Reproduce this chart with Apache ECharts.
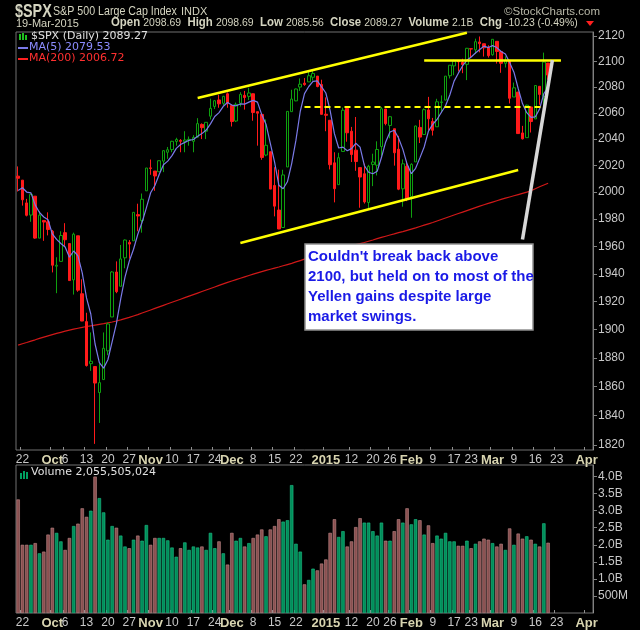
<!DOCTYPE html>
<html><head><meta charset="utf-8">
<script src="https://cdn.jsdelivr.net/npm/echarts@6/dist/echarts.min.js"></script>
<style>html,body{margin:0;padding:0;background:#000}#c{width:640px;height:630px}</style>
</head><body><div id="c"></div>
<script>
const dates = [
'2014-09-19','2014-09-22','2014-09-23','2014-09-24','2014-09-25','2014-09-26','2014-09-29','2014-09-30',
'2014-10-01','2014-10-02','2014-10-03','2014-10-06','2014-10-07','2014-10-08','2014-10-09','2014-10-10','2014-10-13','2014-10-14','2014-10-15','2014-10-16','2014-10-17','2014-10-20','2014-10-21','2014-10-22','2014-10-23','2014-10-24','2014-10-27','2014-10-28','2014-10-29','2014-10-30','2014-10-31',
'2014-11-03','2014-11-04','2014-11-05','2014-11-06','2014-11-07','2014-11-10','2014-11-11','2014-11-12','2014-11-13','2014-11-14','2014-11-17','2014-11-18','2014-11-19','2014-11-20','2014-11-21','2014-11-24','2014-11-25','2014-11-26','2014-11-28',
'2014-12-01','2014-12-02','2014-12-03','2014-12-04','2014-12-05','2014-12-08','2014-12-09','2014-12-10','2014-12-11','2014-12-12','2014-12-15','2014-12-16','2014-12-17','2014-12-18','2014-12-19','2014-12-22','2014-12-23','2014-12-24','2014-12-26','2014-12-29','2014-12-30','2014-12-31',
'2015-01-02','2015-01-05','2015-01-06','2015-01-07','2015-01-08','2015-01-09','2015-01-12','2015-01-13','2015-01-14','2015-01-15','2015-01-16','2015-01-20','2015-01-21','2015-01-22','2015-01-23','2015-01-26','2015-01-27','2015-01-28','2015-01-29','2015-01-30',
'2015-02-02','2015-02-03','2015-02-04','2015-02-05','2015-02-06','2015-02-09','2015-02-10','2015-02-11','2015-02-12','2015-02-13','2015-02-17','2015-02-18','2015-02-19','2015-02-20','2015-02-23','2015-02-24','2015-02-25','2015-02-26','2015-02-27',
'2015-03-02','2015-03-03','2015-03-04','2015-03-05','2015-03-06','2015-03-09','2015-03-10','2015-03-11','2015-03-12','2015-03-13','2015-03-16','2015-03-17','2015-03-18','2015-03-19'];
const futureDates = ['2015-03-20','2015-03-23','2015-03-24','2015-03-25','2015-03-26','2015-03-27','2015-03-30','2015-03-31','2015-04-01','2015-04-02'];
// [open, close, low, high]
const ohlc = [
[2012,2010.4,2000.5,2019.3],[2009,1994.3,1990,2009],[1992,1982.8,1982,1995],[1983,1998.3,1978,1999],[1997,1966,1965.5,1997],[1966,1982.9,1966,1986],[1979,1977.8,1964,1979],[1978,1972.3,1968,1985],
[1971,1946.2,1941,1972],[1945.5,1946.2,1926,1952],[1949,1967.9,1949,1971],[1970,1964.8,1960,1977],[1962,1935.1,1935,1962],[1935.6,1968.9,1925,1970],[1967.7,1928.2,1927,1967.7],[1925.6,1906.1,1906,1936],[1905.7,1874.7,1874,1912],[1876,1877.7,1871,1898],[1874,1862.5,1820.7,1874],[1855.9,1862.8,1835,1876],[1864.9,1886.8,1864.9,1898],[1885,1904,1882,1905],[1909,1941.3,1909,1942],[1941.3,1927.1,1926,1949],[1931,1950.8,1931,1961],[1951.6,1964.6,1944,1965],[1962.9,1961.6,1951,1964.6],[1964,1985,1964,1985],[1983.3,1982.3,1971,1991.4],[1979,1994.7,1970,1999],[2001,2018.1,2001,2018.2],
[2018.2,2017.8,2013,2024.5],[2015.8,2012.1,2001,2015.8],[2015.3,2023.6,2015.3,2023.8],[2023.3,2031.2,2015,2031.6],[2030,2031.9,2025,2034],[2032,2038.3,2030,2038.7],[2038.2,2039.7,2035,2041],[2039,2038.3,2030,2040],[2038,2039.3,2030,2046],[2039.3,2039.8,2035,2042],[2038.3,2041.3,2030,2043],[2041.5,2051.8,2041,2056],[2051.2,2048.7,2040,2052],[2046,2052.8,2040,2053],[2057.5,2063.5,2055,2071],[2065,2069.4,2063,2070],[2070,2067,2064,2074],[2067.4,2072.8,2066,2073.2],[2074.8,2067.6,2064,2075.8],
[2065.8,2053.4,2049.6,2065.8],[2053.8,2066.6,2053,2068],[2067.5,2074.3,2065,2076],[2073.6,2071.9,2062.6,2077],[2072.8,2075.4,2070,2079.5],[2074.8,2060.3,2054,2075],[2061,2059.8,2035,2061],[2058.9,2026.1,2024.3,2058.9],[2027.9,2035.3,2027,2055],[2030.4,2002.3,2002.3,2030.4],[2005,1989.6,1982,2018.7],[1986.7,1972.7,1972.6,2016.9],[1973.8,2012.9,1973.8,2016.8],[2018.9,2061.2,2018.9,2061.2],[2061,2070.7,2061,2077.9],[2069.3,2078.5,2069,2078.8],[2080,2082.2,2077,2086.7],[2083,2081.9,2081,2087],[2084,2088.8,2084,2092.7],[2087.6,2090.6,2085,2093.6],[2088.5,2080.4,2079.8,2088.5],[2082,2058.9,2058.9,2085.7],
[2059,2058.2,2046,2072],[2054.4,2020.6,2017,2054.4],[2022,2002.6,1992.4,2030],[2005.6,2025.9,2005.6,2029.6],[2030.6,2062.1,2030.6,2064.1],[2063.5,2044.8,2038,2064.4],[2046,2028.3,2022.6,2049.3],[2031.6,2023,2016,2056.9],[2018.4,2011.3,1988.4,2018.4],[2013.8,1992.7,1991.5,2021.4],[1992.3,2019.4,1988.1,2020.5],[2020.8,2022.6,2004.5,2028.9],[2020.2,2032.1,2012.5,2038.3],[2034.3,2063.2,2026.4,2064.6],[2063,2051.8,2050.5,2063],[2050.4,2057.1,2040.6,2057.6],[2047.9,2029.6,2019.9,2047.9],[2032.3,2002.2,2001.5,2042.5],[2002.5,2021.3,1989.2,2024.6],[2019.4,1995,1993.3,2023.3],
[1996.7,2020.9,1981,2021.7],[2022.7,2050,2022.7,2050.3],[2048.9,2041.5,2037,2054.7],[2043.5,2062.5,2043.5,2063.5],[2062.3,2055.5,2046.8,2072.4],[2053.5,2046.7,2042.7,2056.2],[2049.4,2068.6,2049.4,2070.9],[2068,2068.5,2060,2073.5],[2069.9,2088.5,2069.9,2088.5],[2088.8,2097,2086.7,2097],[2096.5,2100.3,2089.2,2101.3],[2100.5,2099.7,2092.2,2100.7],[2099.3,2097.5,2090.8,2102.1],[2097.7,2110.3,2085.4,2110.6],[2110,2109.7,2103,2110.1],[2109.1,2115.5,2105.9,2117.9],[2115.3,2113.9,2107.1,2119.6],[2113.9,2110.7,2103.8,2113.9],[2110.9,2104.5,2103,2112.7],
[2105.2,2117.4,2104.5,2117.5],[2115.8,2107.8,2098.3,2115.8],[2107.7,2098.5,2091.1,2107.7],[2098.5,2101,2095.2,2104],[2100.9,2071.3,2067.3,2100.9],[2072.3,2079.4,2072.3,2083.5],[2076.1,2044.2,2044.2,2076.1],[2044.7,2040.2,2039.7,2050.1],[2041.1,2066,2041.1,2066.4],[2064.6,2053.4,2045,2064.6],[2055.4,2081.2,2055.4,2081.4],[2080.6,2074.3,2066.3,2080.6],[2072.8,2099.5,2061,2106.9],[2098.7,2089.3,2085.6,2098.7]];
const priorCloses = [1984.13,1998.98,2001.57,2011.36];
const ma200 = [
1889.0,1890.0,1890.9,1891.9,1892.8,1893.8,1894.7,1895.6,1896.5,1897.3,
1898.1,1898.9,1899.6,1900.3,1901.0,1901.6,1902.2,1902.7,1903.2,1903.7,
1904.2,1904.8,1905.4,1906.1,1906.9,1907.8,1908.7,1909.7,1910.7,1911.8,
1912.9,1914.0,1915.1,1916.2,1917.3,1918.4,1919.5,1920.6,1921.7,1922.8,
1923.9,1925.0,1926.1,1927.2,1928.3,1929.4,1930.5,1931.6,1932.7,1933.8,
1934.8,1935.8,1936.8,1937.8,1938.8,1939.8,1940.7,1941.6,1942.5,1943.3,
1944.1,1944.9,1945.8,1946.7,1947.6,1948.6,1949.6,1950.6,1951.6,1952.6,
1953.6,1954.5,1955.4,1956.2,1957.0,1957.8,1958.7,1959.6,1960.4,1961.2,
1962.0,1962.8,1963.7,1964.6,1965.6,1966.5,1967.4,1968.3,1969.1,1970.0,
1970.8,1971.7,1972.6,1973.5,1974.5,1975.5,1976.5,1977.5,1978.6,1979.7,
1980.8,1981.9,1983.0,1984.1,1985.2,1986.3,1987.4,1988.5,1989.6,1990.6,
1991.6,1992.6,1993.6,1994.6,1995.5,1996.4,1997.3,1998.2,1999.1,2000.0,
2001.0,2002.6,2004.0,2005.4,2006.7];
// volume in billions
const volume = [
3.33,2.0,2.0,2.0,2.05,1.75,1.8,2.3,2.5,2.35,2.1,1.85,2.2,2.55,2.62,3.07,2.82,3.0,4.0,3.37,
2.95,2.15,2.55,2.5,2.27,1.95,1.9,2.15,2.27,2.12,2.58,2.0,2.2,2.2,2.2,2.13,1.92,1.65,1.9,2.07,
1.85,1.95,1.92,1.95,1.85,2.35,1.9,2.1,1.75,1.42,2.35,2.12,2.2,1.95,2.05,2.2,2.3,2.45,2.25,2.45,
2.55,2.75,2.68,2.72,3.75,2.03,1.8,0.84,0.97,1.3,1.25,1.45,1.57,2.35,2.75,2.23,2.4,1.95,2.1,2.52,
2.78,2.65,2.65,2.4,2.27,2.65,2.12,2.12,2.4,2.75,2.65,3.07,2.6,2.75,2.72,2.3,2.57,2.05,2.27,2.18,
2.35,2.1,2.1,1.97,1.97,2.12,1.9,2.03,2.1,2.18,2.15,2.05,1.95,2.03,1.85,2.48,2.0,2.33,2.18,2.25,
2.15,2.03,1.95,2.63,2.06];
// u = green (up) bar, d = brown (down) bar
const volDir = 'dddududdduuddudddudu'+'uuuduududuudduuuuudu'+'uuuduuudud'+'duududddud'+'dduuuuuduu'+'ddddduuddd'+'duuuuududd'+'uduududduu'+'uuuddududd'+'duddududdu'+'dudud';
const priceTicks = [1820,1840,1860,1880,1900,1920,1940,1960,1980,2000,2020,2040,2060,2080,2100,2120];
const volTicks = [0.5,1.0,1.5,2.0,2.5,3.0,3.5,4.0];
const volTickLabels = ['500M','1.0B','1.5B','2.0B','2.5B','3.0B','3.5B','4.0B'];
const xLabels = {'2014-09-22':'22','2014-10-01':'Oct','2014-10-06':'6','2014-10-13':'13','2014-10-20':'20','2014-10-27':'27','2014-11-03':'Nov','2014-11-10':'10','2014-11-17':'17','2014-11-24':'24','2014-12-01':'Dec','2014-12-08':'8','2014-12-15':'15','2014-12-22':'22','2015-01-02':'2015','2015-01-12':'12','2015-01-20':'20','2015-01-26':'26','2015-02-02':'Feb','2015-02-09':'9','2015-02-17':'17','2015-02-23':'23','2015-03-02':'Mar','2015-03-09':'9','2015-03-16':'16','2015-03-23':'23','2015-04-01':'Apr'};
const monthLabels = ['Oct','Nov','Dec','2015','Feb','Mar','Apr'];

const allDates = dates.concat(futureDates);
const L = Math.log;
const closes = ohlc.map(d=>d[1]);
const ext = priorCloses.concat(closes);
const ma5 = closes.map((c,i)=>{let s=0;for(let k=0;k<5;k++)s+=ext[i+4-k];return L(s/5);});
const candles = ohlc.map(d=>d.map(L));
const volData = volume.map((v,i)=>({value:v,itemStyle:volDir[i]==='u'?{color:'#008f5a',borderColor:'#1fc088'}:{color:'#8a5050',borderColor:'#c08a8a'}}));

const chart = echarts.init(document.getElementById('c'));
const txtC = '#d4d4c0';
const xAxisCommon = (gi)=>({type:'category',gridIndex:gi,data:allDates,boundaryGap:true,
  axisLine:{show:false},
  axisTick:{show:true,inside:true,length:3,lineStyle:{color:'#909090'},interval:(i,v)=>!!xLabels[v]},
  axisLabel:{show:true,interval:(i,v)=>!!xLabels[v],margin:4,fontFamily:'Liberation Sans',fontSize:12,color:'#c8c8c8',
    formatter:v=>{const t=xLabels[v];return monthLabels.includes(t)?'{m|'+t+'}':t;},
    rich:{m:{fontWeight:'bold',fontSize:13,color:'#d8d4b0',fontFamily:'Liberation Sans'}}},
  splitLine:{show:false}});
const gTop=32, gBot=450;
const yTop = L(2120)+4/2680, yBot = L(2120)-(gBot-36)/2680;
const ml = (d1,v1,d2,v2,style)=>[{coord:[d1,L(v1)],lineStyle:style},{coord:[d2,L(v2)]}];
const yellow={color:'#ffff00',width:2.5,type:'solid'};
chart.setOption({
  animation:false,backgroundColor:'#000',
  grid:[{left:16,right:47,top:gTop,height:gBot-gTop,show:true,borderColor:'#707070',backgroundColor:'#000'},
        {left:16,right:47,top:465,height:148,show:true,borderColor:'#707070',backgroundColor:'#000'}],
  xAxis:[xAxisCommon(0),xAxisCommon(1)],
  yAxis:[{type:'value',gridIndex:0,position:'right',min:yBot,max:yTop,
    axisLine:{show:true,lineStyle:{color:'#808080'}},
    axisTick:{show:true,length:4,customValues:priceTicks.map(L),lineStyle:{color:'#808080'}},
    axisLabel:{customValues:priceTicks.map(L),formatter:v=>String(Math.round(Math.exp(v))),color:'#c8c8c8',fontFamily:'Liberation Sans',fontSize:12,margin:5},
    splitLine:{show:false}},
   {type:'value',gridIndex:1,position:'right',min:0,max:4.34,
    axisLine:{show:true,lineStyle:{color:'#808080'}},
    axisTick:{show:true,length:4,customValues:volTicks,lineStyle:{color:'#808080'}},
    axisLabel:{customValues:volTicks,formatter:v=>volTickLabels[volTicks.indexOf(Math.round(v*10)/10)]||'',color:'#c8c8c8',fontFamily:'Liberation Sans',fontSize:12,margin:5},
    splitLine:{show:false}}],
  series:[
   {type:'line',name:'MA200',data:ma200.map(L),xAxisIndex:0,yAxisIndex:0,showSymbol:false,lineStyle:{color:'#d01818',width:1.2},z:2},
   {type:'candlestick',name:'SPX',data:candles,xAxisIndex:0,yAxisIndex:0,barWidth:3,
    itemStyle:{color:'#000',color0:'#ff1a1a',borderColor:'#0fa00f',borderColor0:'#ff1a1a',borderWidth:1},z:3,
    markLine:{silent:true,symbol:['none','none'],label:{show:false},
     data:[
      ml('2014-11-18',2071.5,'2015-02-20',2122.6,yellow),
      ml('2014-12-03',1962.4,'2015-03-10',2016.6,yellow),
      ml('2015-02-05',2101,'2015-03-24',2101,yellow),
      ml('2014-12-24',2064.6,'2015-03-18',2064.6,{color:'#ffff00',width:2,type:[6,4]}),
      ml('2015-03-11',1965,'2015-03-20',2101,{color:'#d8d8d8',width:3.5,type:'solid'})
     ]}},
   {type:'line',name:'MA5',data:ma5,xAxisIndex:0,yAxisIndex:0,showSymbol:false,lineStyle:{color:'#7a7ae8',width:1.2},z:4},
   {type:'bar',name:'Volume',data:volData,xAxisIndex:1,yAxisIndex:1,barWidth:3.4,itemStyle:{borderWidth:0.6}}
  ],
  graphic:[
   {type:'text',x:15,y:3,scaleX:0.8,style:{text:'$SPX',font:'bold 18px "Liberation Sans"',fill:txtC}},
   {type:'text',x:53,y:5,scaleX:0.82,style:{text:'S&P 500 Large Cap Index',font:'13px "Liberation Sans"',fill:txtC}},
   {type:'text',x:181,y:6,style:{text:'INDX',font:'11px "Liberation Sans"',fill:txtC}},
   {type:'text',x:504,y:6,style:{text:'©StockCharts.com',font:'11.5px "Liberation Sans"',fill:'#b8b8a8'}},
   {type:'text',x:16,y:18,style:{text:'19-Mar-2015',font:'11px "Liberation Sans"',fill:txtC}},
   {type:'text',x:111,y:17,scaleX:0.95,style:{rich:{b:{font:'bold 12px "Liberation Sans"',fill:txtC},n:{font:'11px "Liberation Sans"',fill:txtC}},
     text:'{b|Open} {n|2098.69}  {b|High} {n|2098.69}  {b|Low} {n|2085.56}  {b|Close} {n|2089.27}  {b|Volume} {n|2.1B}  {b|Chg} {n|-10.23 (-0.49%)}'}},
   {type:'polygon',shape:{points:[[586,21],[594,21],[590,26]]},style:{fill:'#ff2020'}},
   {type:'rect',shape:{x:19,y:34,width:2,height:6},style:{fill:'#20c020'}},
   {type:'rect',shape:{x:22,y:33,width:2,height:7},style:{fill:'#20c020'}},
   {type:'rect',shape:{x:25,y:35,width:2,height:5},style:{fill:'#20c020'}},
   {type:'text',x:31,y:31,style:{text:'$SPX (Daily) 2089.27',font:'11px "DejaVu Sans"',fill:'#e0e0e0'}},
   {type:'rect',shape:{x:18,y:47,width:10,height:2},style:{fill:'#7a7ae8'}},
   {type:'text',x:29,y:42,style:{text:'MA(5) 2079.53',font:'11px "DejaVu Sans"',fill:'#8c8cff'}},
   {type:'rect',shape:{x:18,y:58,width:10,height:2},style:{fill:'#ff2020'}},
   {type:'text',x:29,y:53,style:{text:'MA(200) 2006.72',font:'11px "DejaVu Sans"',fill:'#ff3030'}},
   {type:'rect',shape:{x:20,y:473,width:2,height:6},style:{fill:'#00a060'}},
   {type:'rect',shape:{x:23,y:471,width:2,height:8},style:{fill:'#00a060'}},
   {type:'rect',shape:{x:26,y:472,width:2,height:7},style:{fill:'#00a060'}},
   {type:'text',x:31,y:467,style:{text:'Volume 2,055,505,024',font:'11px "DejaVu Sans"',fill:'#e0e0e0'}},
   {type:'rect',shape:{x:305,y:244,width:228,height:86},style:{fill:'#ffffff',stroke:'#909090',lineWidth:1.5},z:100},
   {type:'text',x:308,y:247,z:101,style:{text:"Couldn't break back above\n2100, but held on to most of the\nYellen gains despite large\nmarket swings.",
     font:'bold 15px "Liberation Sans"',fill:'#1a1ae6',lineHeight:20}}
  ]
});
</script></body></html>
